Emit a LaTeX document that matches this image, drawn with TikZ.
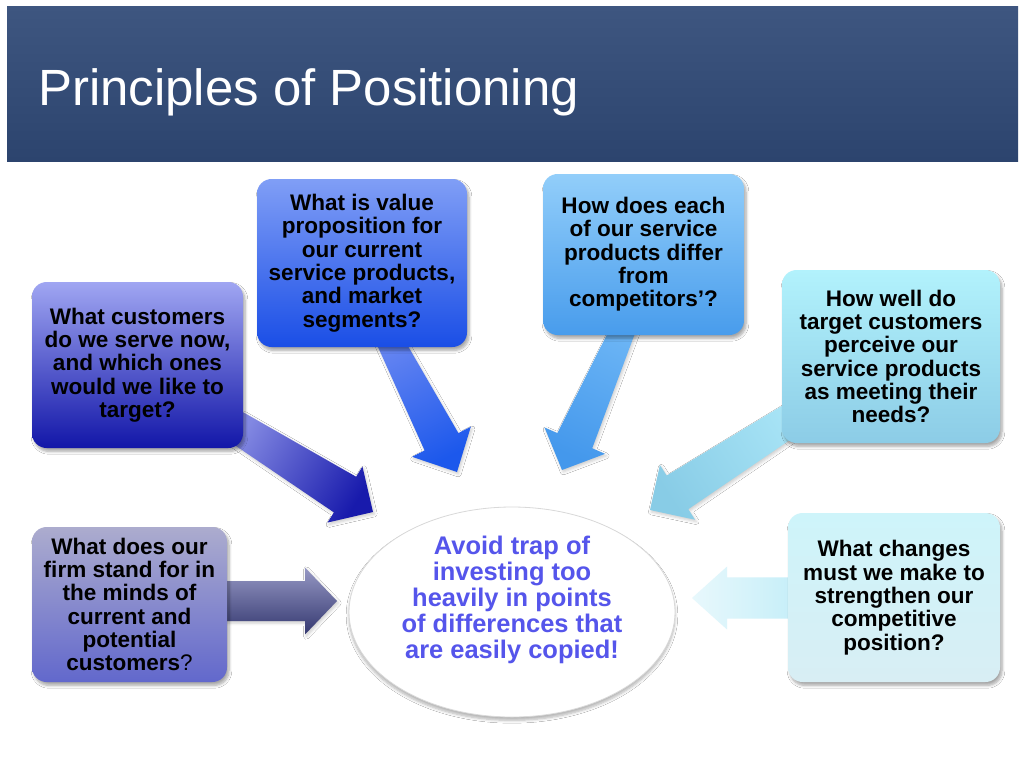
\documentclass[tikz,border=0pt]{standalone}
\usepackage{fontspec}
\setmainfont{Liberation Sans}
\usetikzlibrary{calc,shadows.blur,shapes.geometric}

\definecolor{barTop}{RGB}{62,86,128}
\definecolor{barBot}{RGB}{44,68,110}
\definecolor{bAt}{RGB}{160,166,242}\definecolor{bAb}{RGB}{18,22,168}
\definecolor{bBt}{RGB}{172,172,206}\definecolor{bBb}{RGB}{98,104,204}
\definecolor{bCt}{RGB}{128,158,246}\definecolor{bCb}{RGB}{26,78,230}
\definecolor{bDt}{RGB}{146,206,250}\definecolor{bDb}{RGB}{72,156,236}
\definecolor{bEt}{RGB}{178,242,252}\definecolor{bEb}{RGB}{140,204,230}
\definecolor{bFt}{RGB}{206,244,250}\definecolor{bFb}{RGB}{216,238,244}
\definecolor{aAs}{RGB}{130,136,226}\definecolor{aAe}{RGB}{24,26,172}
\definecolor{aBs}{RGB}{110,138,242}\definecolor{aBe}{RGB}{28,88,236}
\definecolor{aCs}{RGB}{112,184,246}\definecolor{aCe}{RGB}{68,152,236}
\definecolor{aDs}{RGB}{168,228,246}\definecolor{aDe}{RGB}{136,204,230}
\definecolor{aEs}{RGB}{196,238,248}\definecolor{aEe}{RGB}{232,248,252}
\definecolor{aFt}{RGB}{150,152,196}\definecolor{aFb}{RGB}{52,56,112}
\definecolor{ellText}{RGB}{85,85,235}

% block arrow: tail, tip, tail half width, shaft half width, head half width, head length, style
\newcommand{\blockarrow}[7]{%
  \coordinate (hb) at ($(#2)!#6!(#1)$);
  \path[#7] ($(#1)!#3!90:(#2)$) -- ($(hb)!#4!90:(#2)$) -- ($(hb)!#5!90:(#2)$)
    -- (#2) -- ($(hb)!#5!-90:(#2)$) -- ($(hb)!#4!-90:(#2)$) -- ($(#1)!#3!-90:(#2)$) -- cycle;
}

\tikzset{
  qbox/.style={rectangle, rounded corners=11pt, inner sep=0pt, align=center,
    font=\bfseries\fontsize{16.9}{17.5}\selectfont,
    blur shadow={shadow xshift=1.5pt, shadow yshift=-2.5pt, shadow blur steps=6, shadow opacity=35}},
  arrowshadow/.style={blur shadow={shadow xshift=1pt, shadow yshift=-1.5pt, shadow blur steps=4, shadow opacity=20}}
}

\begin{document}
\begin{tikzpicture}[x=0.75pt, y=-0.75pt]
\useasboundingbox (0,0) rectangle (1024,768);
\fill[white] (0,0) rectangle (1024,768);

% title bar
\shade[top color=barTop, bottom color=barBot] (7,6) rectangle (1018,161);
\node[anchor=base west, text=white, inner sep=0pt, font=\fontsize{38.2}{40}\selectfont] (title) at (38,105) {Principles of Positioning};

% central ellipse
\node[ellipse, minimum width=244.5pt, minimum height=157.5pt, inner sep=0pt, fill=white,
  draw=gray!30, line width=0.6pt,
  blur shadow={shadow xshift=0pt, shadow yshift=-2.5pt, shadow blur steps=6, shadow opacity=30}] (ell) at (512,612) {};
\node[align=center, text=ellText, inner sep=0pt, font=\bfseries\fontsize{19.1}{19.5}\selectfont] (elltext) at (512,600)
  {Avoid trap of\\investing too\\heavily in points\\of differences that\\are easily copied!};

% arrow end points
\coordinate (t1) at (235,426);  \coordinate (p1) at (373,512);
\coordinate (t2) at (379,320);  \coordinate (p2) at (457,472);
\coordinate (t3) at (633,307);  \coordinate (p3) at (562,470);
\coordinate (t4) at (801,413);  \coordinate (p4) at (650,510);
\coordinate (t5) at (800,598);  \coordinate (p5) at (692,598);
\coordinate (t6) at (220,601);  \coordinate (p6) at (337,601);

% arrows
\blockarrow{t1}{p1}{12pt}{15.75pt}{24.75pt}{24.75pt}{arrowshadow, top color=aAs, bottom color=aAe, shading angle=58}
\blockarrow{t2}{p2}{9pt}{14.25pt}{24.75pt}{25.5pt}{arrowshadow, top color=aBs, bottom color=aBe, shading angle=27}
\blockarrow{t3}{p3}{8.25pt}{14.25pt}{24.75pt}{24pt}{arrowshadow, top color=aCs, bottom color=aCe, shading angle=-24}
\blockarrow{t4}{p4}{12pt}{15pt}{24.4pt}{24.5pt}{arrowshadow, top color=aDs, bottom color=aDe, shading angle=-57}
\blockarrow{t5}{p5}{15.4pt}{15.4pt}{23.6pt}{26.25pt}{top color=aEs, bottom color=aEe, shading angle=270}
\blockarrow{t6}{p6}{15pt}{15pt}{25.1pt}{24pt}{arrowshadow, top color=aFt, bottom color=aFb, shading angle=0}

% question boxes
\node[qbox, top color=bAt, bottom color=bAb, minimum width=158.25pt, minimum height=124.5pt] (b1) at (137.5,365)
  {What customers\\do we serve now,\\and which ones\\would we like to\\target?};
\node[qbox, top color=bBt, bottom color=bBb, minimum width=146.25pt, minimum height=116.25pt] (b2) at (129.5,604.5)
  {What does our\\firm stand for in\\the minds of\\current and\\potential\\customers\mdseries ?};
\node[qbox, top color=bCt, bottom color=bCb, minimum width=157.5pt, minimum height=126pt] (b3) at (362,263)
  {What is value\\proposition for\\our current\\service products,\\and market\\segments?};
\node[qbox, top color=bDt, bottom color=bDb, minimum width=150.75pt, minimum height=120.75pt] (b4) at (643.5,254.5)
  {How does each\\of our service\\products differ\\from\\competitors’?};
\node[qbox, top color=bEt, bottom color=bEb, minimum width=163.5pt, minimum height=129.75pt] (b5) at (891,356.5)
  {How well do\\target customers\\perceive our\\service products\\as meeting their\\needs?};
\node[qbox, top color=bFt, bottom color=bFb, minimum width=159pt, minimum height=126.75pt] (b6) at (894,597.5)
  {What changes\\must we make to\\strengthen our\\competitive\\position?};
\end{tikzpicture}
\end{document}
